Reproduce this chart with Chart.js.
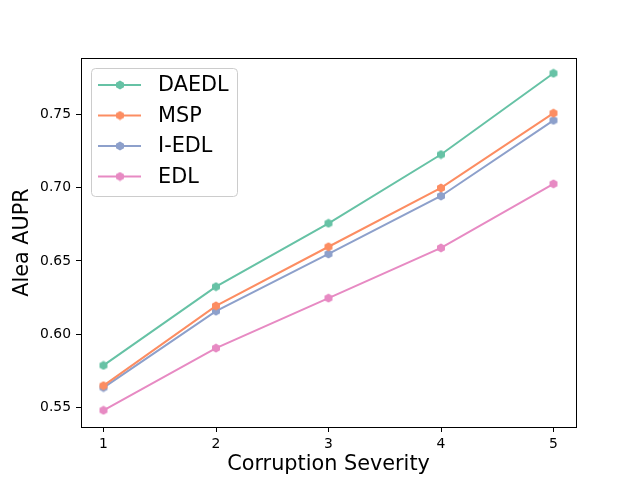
<!DOCTYPE html>
<html>
<head>
<meta charset="utf-8">
<script src="https://cdn.jsdelivr.net/npm/chart.js@4.4.0/dist/chart.umd.min.js"></script>
<style>
  body { margin: 0; background: #fff; }
  #wrap { width: 640px; height: 480px; }
</style>
</head>
<body>
<div id="wrap"><canvas id="chart" width="640" height="480"></canvas></div>
<script>
// values
const severity = [1, 2, 3, 4, 5];
const daedl = [0.5788, 0.6325, 0.6757, 0.7226, 0.7780];
const msp   = [0.5650, 0.6194, 0.6597, 0.6998, 0.7508];
const iedl  = [0.5637, 0.6158, 0.6548, 0.6943, 0.7459];
const edl   = [0.5482, 0.5906, 0.6247, 0.6589, 0.7026];
const methods = ['DAEDL', 'MSP', 'I-EDL', 'EDL'];
const xTicks = [1, 2, 3, 4, 5];
const yTicks = [0.55, 0.60, 0.65, 0.70, 0.75];

const colors = ['#66c2a5', '#fc8d62', '#8da0cb', '#e78ac3'];
const FONT = "'DejaVu Sans', sans-serif";

// hexagon marker like matplotlib 'h'
function hexMarker(color) {
  const c = document.createElement('canvas');
  c.width = 10; c.height = 10;
  const g = c.getContext('2d');
  g.fillStyle = color;
  g.beginPath();
  for (let i = 0; i < 6; i++) {
    const a = -Math.PI / 2 + i * Math.PI / 3;
    const px = 5 + 4.6 * Math.cos(a), py = 5 + 4.6 * Math.sin(a);
    if (i === 0) g.moveTo(px, py); else g.lineTo(px, py);
  }
  g.closePath();
  g.fill();
  return c;
}
const markers = colors.map(hexMarker);

const series = [daedl, msp, iedl, edl];
const datasets = series.map((vals, i) => ({
  label: methods[i],
  data: severity.map((s, j) => ({ x: s, y: vals[j] })),
  borderColor: colors[i],
  backgroundColor: colors[i],
  borderWidth: 2,
  pointStyle: markers[i],
  pointRadius: 5,
  tension: 0
}));

// matplotlib-like frame and legend inside the axes
const framePlugin = {
  id: 'frame',
  afterDraw(chart) {
    const { ctx, chartArea: a } = chart;
    ctx.save();
    ctx.strokeStyle = '#000';
    ctx.lineWidth = 1;
    ctx.strokeRect(a.left + 0.5, a.top + 0.5, a.right - a.left, a.bottom - a.top);

    // legend box
    const bx = a.left + 10, by = a.top + 10, bw = 146, bh = 128, r = 4;
    ctx.beginPath();
    ctx.roundRect(bx + 0.5, by + 0.5, bw, bh, r);
    ctx.fillStyle = 'rgba(255,255,255,0.8)';
    ctx.fill();
    ctx.strokeStyle = '#cccccc';
    ctx.stroke();
    ctx.font = '20.8px ' + FONT;
    ctx.textBaseline = 'middle';
    chart.data.datasets.forEach((ds, i) => {
      const y = by + 17 + i * 30.5;
      ctx.strokeStyle = ds.borderColor;
      ctx.lineWidth = 2;
      ctx.beginPath();
      ctx.moveTo(bx + 7, y);
      ctx.lineTo(bx + 50, y);
      ctx.stroke();
      ctx.drawImage(ds.pointStyle, bx + 29 - 5, y - 5);
      ctx.fillStyle = '#000';
      ctx.fillText(ds.label, bx + 67, y + 1);
    });
    ctx.restore();
  }
};

new Chart(document.getElementById('chart'), {
  type: 'line',
  data: { datasets },
  options: {
    responsive: false,
    animation: false,
    layout: { padding: { top: 58, right: 64, left: 0, bottom: 0 } },
    plugins: { legend: { display: false }, tooltip: { enabled: false } },
    scales: {
      x: {
        type: 'linear',
        min: 0.8, max: 5.2,
        afterBuildTicks: s => { s.ticks = xTicks.map(v => ({ value: v })); },
        afterFit: s => { s.height = 53; },
        grid: { drawOnChartArea: false, color: '#000', tickLength: 5, tickWidth: 1 },
        border: { display: false },
        ticks: { color: '#000', font: { family: FONT, size: 13.9 }, padding: 4, maxRotation: 0,
                 callback: v => String(v) },
        title: { display: true, text: 'Corruption Severity', color: '#000',
                 font: { family: FONT, size: 20.8 }, padding: { top: 0, bottom: 3 } }
      },
      y: {
        min: 0.5368, max: 0.7884,
        afterBuildTicks: s => { s.ticks = yTicks.map(v => ({ value: v })); },
        afterFit: s => { s.width = 81; },
        grid: { drawOnChartArea: false, color: '#000', tickLength: 5, tickWidth: 1 },
        border: { display: false },
        ticks: { color: '#000', font: { family: FONT, size: 13.9 }, padding: 5,
                 callback: v => v.toFixed(2) },
        title: { display: true, text: 'Alea AUPR', color: '#000',
                 font: { family: FONT, size: 20.8 }, padding: { top: 10, bottom: 0 } }
      }
    }
  },
  plugins: [framePlugin]
});
</script>
</body>
</html>
